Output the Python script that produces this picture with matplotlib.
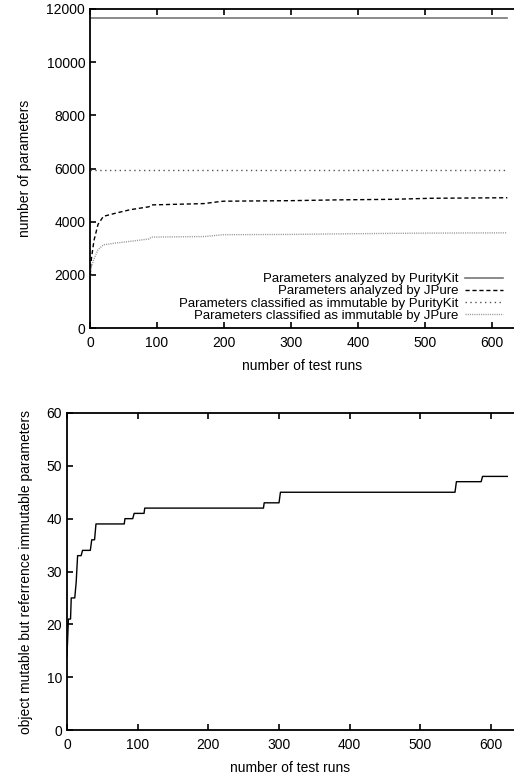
import matplotlib
matplotlib.use("Agg")
import matplotlib.pyplot as plt

plt.rcParams['font.family'] = ['Liberation Sans', 'DejaVu Sans']
plt.rcParams['font.size'] = 10

# top chart: parameters vs test runs
runs_pk = [0, 623]
pk_analyzed = [11650, 11650]
pk_immutable = [5950, 5950]

runs_jp = [0, 2, 6, 12, 20, 40, 60, 88, 92, 170, 195, 200, 300, 370, 450, 510, 623]
jp_analyzed = [2000, 2600, 3300, 3900, 4200, 4330, 4450, 4560, 4630, 4680, 4760, 4770, 4790, 4820, 4840, 4880, 4900]
jp_immutable = [1700, 2300, 2600, 2950, 3130, 3200, 3260, 3350, 3420, 3440, 3500, 3510, 3520, 3540, 3560, 3570, 3580]

labels = ['Parameters analyzed by PurityKit',
          'Parameters analyzed by JPure',
          'Parameters classified as immutable by PurityKit',
          'Parameters classified as immutable by JPure']

# bottom chart: object mutable but reference immutable parameters
runs_obj = [0, 2, 5, 6, 11, 13, 15, 20, 22, 33, 35, 39, 41, 81, 82, 93, 95, 109, 110,
            278, 279, 300, 302, 549, 551, 586, 588, 623]
obj_params = [14, 21, 21, 25, 25, 28, 33, 33, 34, 34, 36, 36, 39, 39, 40, 40, 41, 41, 42,
              42, 43, 43, 45, 45, 47, 47, 48, 48]

W, H = 514, 774
fig = plt.figure(figsize=(W / 100, H / 100), dpi=100)


def style(ax):
    for s in ['left', 'bottom', 'top']:
        ax.spines[s].set_linewidth(1.3)
    ax.spines['right'].set_visible(False)
    ax.tick_params(direction='in', length=4, width=1.2, top=True, right=False)
    ax.tick_params(axis='x', pad=6)


ax1 = fig.add_axes([90 / W, 1 - 328 / H, 1 - 90 / W, (328 - 9) / H])
ax1.plot(runs_pk, pk_analyzed, color='#777777', lw=1.2, label=labels[0])
ax1.plot(runs_jp, jp_analyzed, color='black', lw=1.0, dashes=(3, 2), label=labels[1])
ax1.plot(runs_pk, pk_immutable, color='#555555', lw=1.0, dashes=(1, 2.5), label=labels[2])
ax1.plot(runs_jp, jp_immutable, color='#999999', lw=1.0, dashes=(0.8, 0.8), label=labels[3])
ax1.set_xlim(0, 633)
ax1.set_ylim(0, 12000)
ax1.set_xticks(range(0, 601, 100))
ax1.set_yticks(range(0, 12001, 2000))
ax1.set_xlabel('number of test runs', labelpad=6)
ax1.set_ylabel('number of parameters', labelpad=10)
style(ax1)
ax1.legend(loc='lower right', bbox_to_anchor=(0.974, 0.019), frameon=False, markerfirst=False,
           fontsize=9.5, handlelength=2.9, handletextpad=0.5, labelspacing=0.0,
           borderaxespad=0, borderpad=0)

ax2 = fig.add_axes([67 / W, 1 - 730 / H, 1 - 67 / W, (730 - 413) / H])
ax2.plot(runs_obj, obj_params, color='black', lw=1.0)
ax2.set_xlim(0, 632.5)
ax2.set_ylim(0, 60)
ax2.set_xticks(range(0, 601, 100))
ax2.set_yticks(range(0, 61, 10))
ax2.set_xlabel('number of test runs', labelpad=6)
ax2.set_ylabel('object mutable but referrence immutable parameters', labelpad=10)
style(ax2)

fig.savefig('out.png', dpi=100)
